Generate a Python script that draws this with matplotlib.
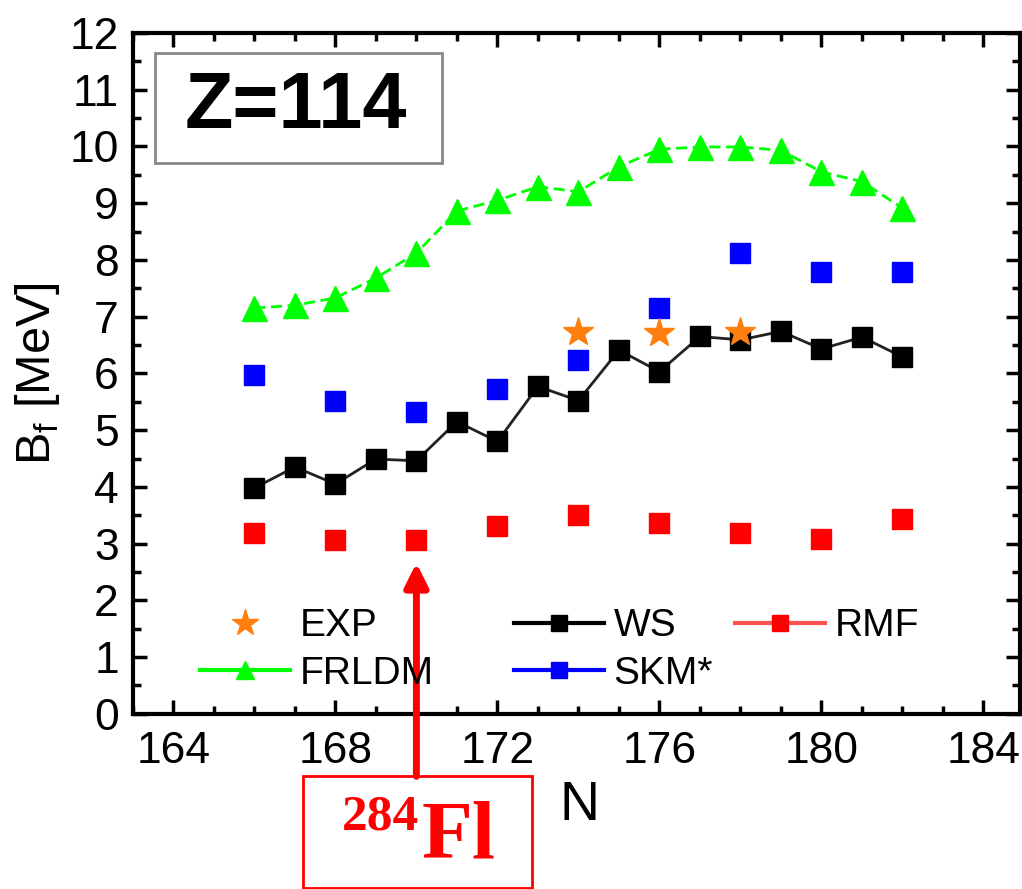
import matplotlib
matplotlib.use("Agg")
import matplotlib.pyplot as plt
from matplotlib.lines import Line2D
from matplotlib.patches import Rectangle
from matplotlib.ticker import MultipleLocator

plt.rcParams['font.family'] = ['Liberation Sans', 'DejaVu Sans']
plt.rcParams['mathtext.fontset'] = 'custom'
plt.rcParams['mathtext.rm'] = 'Liberation Sans'

# Neutron numbers
n_all = [166, 167, 168, 169, 170, 171, 172, 173, 174, 175, 176, 177, 178, 179, 180, 181, 182]
n_even = [166, 168, 170, 172, 174, 176, 178, 180, 182]
n_exp = [174, 176, 178]

# Fission barriers (MeV)
frldm = [7.15, 7.2, 7.33, 7.68, 8.12, 8.86, 9.05, 9.29, 9.2, 9.64, 9.95, 9.99, 9.99, 9.93, 9.55, 9.38, 8.91]
ws = [3.98, 4.35, 4.05, 4.49, 4.46, 5.15, 4.8, 5.77, 5.52, 6.41, 6.03, 6.65, 6.59, 6.74, 6.43, 6.64, 6.29]
skm = [5.97, 5.52, 5.32, 5.72, 6.24, 7.15, 8.12, 7.79, 7.79]
rmf = [3.19, 3.07, 3.07, 3.31, 3.51, 3.37, 3.19, 3.08, 3.43]
exp = [6.73, 6.71, 6.73]

GREEN = '#00ff00'
BLUE = '#0000ff'
RED = '#ff0000'
ORANGE = '#ff7f0e'

fig = plt.figure(figsize=(10.22, 8.89), dpi=100)
ax = fig.add_axes([0.130, 0.197, 0.868, 0.766])

ax.plot(n_all, frldm, color=GREEN, lw=2, ls=(0, (4, 2)), marker='^', ms=18, mec=GREEN, zorder=3)
ax.plot(n_all, ws, color='#222222', lw=2, ls='-', marker='s', ms=15, mfc='black', mec='black', zorder=4)
ax.plot(n_even, skm, ls='none', marker='s', ms=15, color=BLUE, zorder=4)
ax.plot(n_even, rmf, ls='none', marker='s', ms=15, color=RED, zorder=4)
ax.plot(n_exp, exp, ls='none', marker='*', ms=22, color=ORANGE, zorder=5)

ax.set_xlim(163.0, 184.9)
ax.set_ylim(0, 12)
ax.xaxis.set_major_locator(MultipleLocator(4))
ax.xaxis.set_minor_locator(MultipleLocator(1))
ax.yaxis.set_major_locator(MultipleLocator(1))
ax.yaxis.set_minor_locator(MultipleLocator(0.5))
ax.tick_params(which='both', direction='in', top=True, right=True, width=2.5, labelsize=32)
ax.tick_params(which='major', length=10)
ax.tick_params(which='minor', length=6)
ax.tick_params(axis='x', pad=12)
ax.tick_params(axis='y', pad=10)
for s in ax.spines.values():
    s.set_linewidth(3)

ax.set_xlabel('N', fontsize=40)
ax.xaxis.set_label_coords(0.504, -0.097)
ax.set_ylabel(r'B$_\mathregular{f}$ [MeV]', fontsize=35)
ax.yaxis.set_label_coords(-0.08, 0.5)

# Z label box
ax.add_patch(Rectangle((0.0248, 0.809), 0.3232, 0.1616, transform=ax.transAxes,
                       fill=False, ec='#888888', lw=2, zorder=6))
ax.text(0.184, 0.89, 'Z=114', transform=ax.transAxes, fontsize=57, fontweight='bold',
        ha='center', va='center')

# Legend, three columns drawn as separate legends
def h_line(color, marker, ms):
    return Line2D([], [], color=color, lw=3, marker=marker, ms=ms, mec=color, mfc=color)

exp_h = Line2D([], [], ls='none', marker='*', ms=20, color=ORANGE)
frldm_h = h_line(GREEN, '^', 13)
ws_h = h_line('black', 's', 11)
skm_h = h_line(BLUE, 's', 11)
rmf_h = Line2D([], [], color='#ff5050', lw=3, marker='s', ms=11, mec=RED, mfc=RED)

common = dict(frameon=False, fontsize=28, handlelength=2.3, handletextpad=0.25,
              labelspacing=0.3, borderaxespad=0, borderpad=0)
leg1 = ax.legend([exp_h, frldm_h], ['EXP', 'FRLDM'], loc='upper left',
                 bbox_to_anchor=(0.076, 0.155), **common)
ax.add_artist(leg1)
leg2 = ax.legend([ws_h, skm_h], ['WS', 'SKM*'], loc='upper left',
                 bbox_to_anchor=(0.43, 0.155), **common)
ax.add_artist(leg2)
leg3 = ax.legend([rmf_h], ['RMF'], loc='upper left',
                 bbox_to_anchor=(0.679, 0.155), **common)

# Arrow pointing to 284Fl
ax.annotate('', xy=(170, 2.66), xycoords='data', xytext=(170, -1.1),
            textcoords='data',
            arrowprops=dict(arrowstyle='-|>,head_length=1.4,head_width=0.7', color=RED, lw=5,
                            shrinkA=0, shrinkB=0), annotation_clip=False)

# Nucleus label box
fig.patches.append(Rectangle((303 / 1022, 1 - 888 / 889), (532 - 303) / 1022, (888 - 776) / 889,
                             transform=fig.transFigure, fill=False, ec=RED, lw=2))
fig.text(342 / 1022, 1 - 830 / 889, '284', color=RED, fontsize=37, fontweight='bold',
         family='Liberation Serif', ha='left', va='baseline')
fig.text(422 / 1022, 1 - 858 / 889, 'Fl', color=RED, fontsize=60, fontweight='bold',
         family='Liberation Serif', ha='left', va='baseline')

fig.savefig('out.png', dpi=100)
